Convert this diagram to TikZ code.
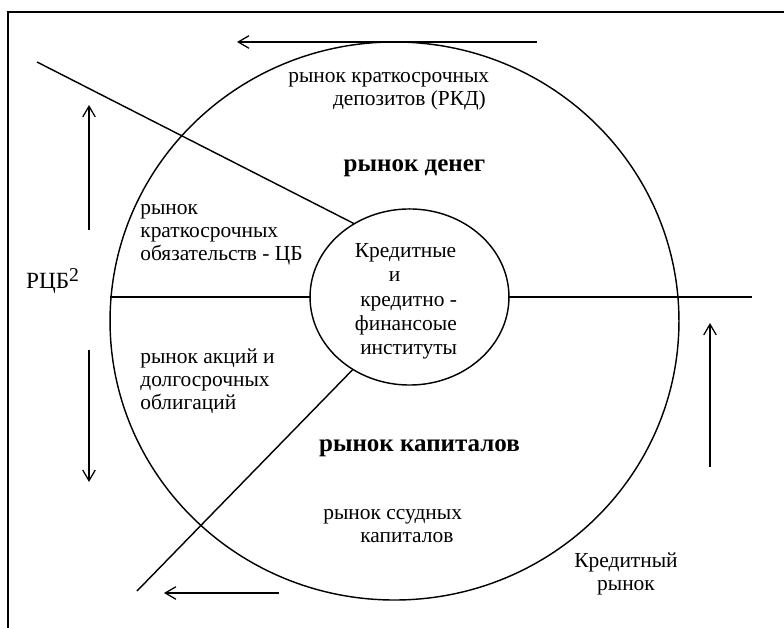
\documentclass[tikz,border=0pt]{standalone}
\usepackage{fontspec}
\setmainfont{Liberation Serif}
\usetikzlibrary{shapes.geometric,arrows.meta}

\tikzset{
  lbl/.style = {font = \fontsize{12}{13}\selectfont, inner sep = 0pt},
  head/.style = {font = \bfseries\fontsize{14}{16}\selectfont, inner sep = 0pt},
  flow/.style = {-{Straight Barb[length=6pt,width=7pt]}, line width = 0.7pt},
  rim/.style = {line width = 0.8pt},
}

\begin{document}
\begin{tikzpicture}[x=0.56pt, y=-0.56pt]
  \useasboundingbox (0,0) rectangle (784,628);

  % frame (only left and top edge visible)
  \draw[rim] (8,628) -- (8,12) -- (784,12);

  % the whole credit market
  \node[ellipse,
      draw = black,
      rim,
      inner sep = 0pt,
      outer sep = 0pt,
      minimum width = 318.6pt,
      minimum height = 312.5pt] (markt) at (394.5,321) {};

  % credit institutions in the middle
  \node[ellipse,
      draw = black,
      rim,
      inner sep = 0pt,
      outer sep = 0pt,
      minimum width = 111.4pt,
      minimum height = 98.6pt] (inst) at (409.5,297) {};
  \node[lbl,
      font = \fontsize{12}{13.6}\selectfont,
      align = left] (insttext) at (406,301.5)
      {Кредитные\\ \hspace*{19pt}и\\ \hspace*{3pt}кредитно -\\ финансоые\\ \hspace*{3pt}институты};

  % dividing lines
  \coordinate (nw) at (37,62);
  \coordinate (sw) at (137,591);
  \coordinate (rend) at (752,297);
  \draw[rim] (inst.west) -- (inst.west -| markt.west);
  \draw[rim] (inst.east) -- (rend);
  \draw[rim] (nw) -- (inst.127.8);
  \draw[rim] (sw) -- (inst.232.2);

  % labels of the segments
  \node[lbl, align = left, anchor = west] (rkd) at (288,91)
      {рынок краткосрочных\\ \hspace*{25pt}депозитов (РКД)};
  \node[head] (money) at (414.5,168) {рынок денег};
  \node[lbl, align = left, anchor = west] (cb) at (140,235)
      {рынок\\ краткосрочных\\ обязательств - ЦБ};
  \node[lbl, align = left, anchor = west] (shares) at (140,381)
      {рынок акций и\\ долгосрочных\\ облигаций};
  \node[head] (capital) at (419.5,448) {рынок капиталов};
  \node[lbl, align = left, anchor = west] (loans) at (323,526)
      {рынок ссудных\\ \hspace*{20.7pt}капиталов};
  \node[lbl, align = center] (credit) at (626,574) {Кредитный\\ рынок};
  \node[lbl, font = \fontsize{13}{15}\selectfont] (rcb) at (53,281)
      {РЦБ\textsuperscript{\fontsize{11}{11}\selectfont 2}};

  % arrows indicating the flows
  \coordinate (t1) at (537,42);
  \coordinate (t2) at (237,42);
  \coordinate (l1) at (89,230);
  \coordinate (l2) at (89,105);
  \coordinate (l3) at (89,350);
  \coordinate (l4) at (89,482);
  \coordinate (b1) at (279,593);
  \coordinate (b2) at (164,593);
  \coordinate (r1) at (710,467);
  \coordinate (r2) at (710,323);
  \draw[flow] (t1) -- (t2);
  \draw[flow] (l1) -- (l2);
  \draw[flow] (l3) -- (l4);
  \draw[flow] (b1) -- (b2);
  \draw[flow] (r1) -- (r2);

\end{tikzpicture}
\end{document}
